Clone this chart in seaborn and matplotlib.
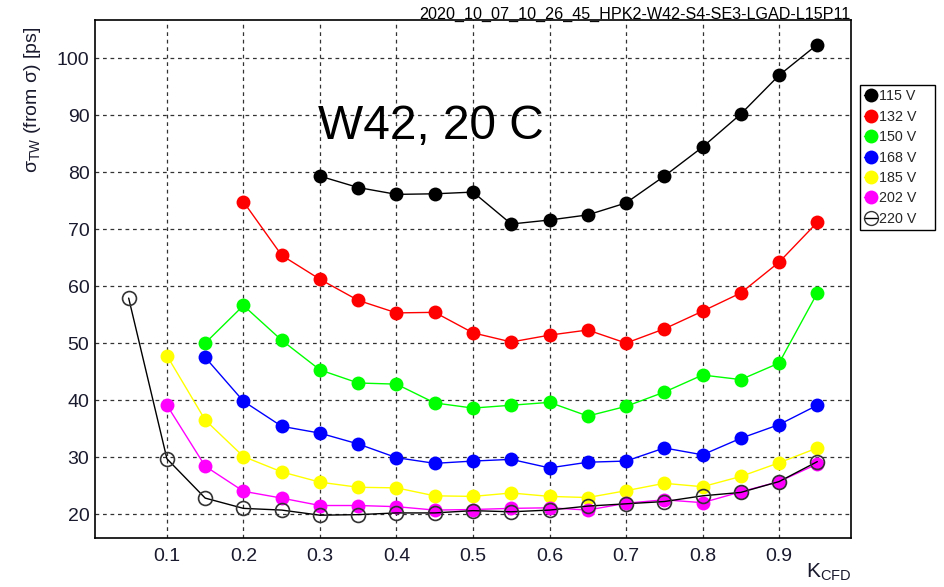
import numpy as np
import pandas as pd
import seaborn as sns
import matplotlib
matplotlib.use("Agg")
import matplotlib.pyplot as plt
from matplotlib.ticker import MultipleLocator
from matplotlib.lines import Line2D

sns.set_style("white")
plt.rcParams["font.family"] = ["Liberation Sans", "DejaVu Sans"]
plt.rcParams["mathtext.fontset"] = "custom"
plt.rcParams["mathtext.rm"] = "Liberation Sans"
plt.rcParams["mathtext.it"] = "Liberation Sans"
plt.rcParams["mathtext.sf"] = "Liberation Sans"

# CFD fraction scan, time-walk-corrected resolution per bias voltage
k_115 = [0.30, 0.35, 0.40, 0.45, 0.50, 0.55, 0.60, 0.65, 0.70, 0.75, 0.80, 0.85, 0.90, 0.95]
s_115 = [79.3, 77.3, 76.1, 76.2, 76.5, 70.9, 71.6, 72.5, 74.6, 79.3, 84.4, 90.2, 97.0, 102.4]

k_132 = [0.20, 0.25, 0.30, 0.35, 0.40, 0.45, 0.50, 0.55, 0.60, 0.65, 0.70, 0.75, 0.80, 0.85, 0.90, 0.95]
s_132 = [74.8, 65.4, 61.2, 57.5, 55.3, 55.4, 51.8, 50.2, 51.4, 52.3, 50.0, 52.5, 55.6, 58.8, 64.2, 71.2]

k_150 = [0.15, 0.20, 0.25, 0.30, 0.35, 0.40, 0.45, 0.50, 0.55, 0.60, 0.65, 0.70, 0.75, 0.80, 0.85, 0.90, 0.95]
s_150 = [50.0, 56.6, 50.5, 45.3, 43.0, 42.8, 39.5, 38.6, 39.1, 39.6, 37.2, 38.9, 41.4, 44.4, 43.6, 46.5, 58.8]

k_168 = [0.15, 0.20, 0.25, 0.30, 0.35, 0.40, 0.45, 0.50, 0.55, 0.60, 0.65, 0.70, 0.75, 0.80, 0.85, 0.90, 0.95]
s_168 = [47.5, 39.8, 35.4, 34.2, 32.3, 29.9, 28.9, 29.3, 29.6, 28.1, 29.1, 29.3, 31.6, 30.4, 33.3, 35.7, 39.1]

k_185 = [0.10, 0.15, 0.20, 0.25, 0.30, 0.35, 0.40, 0.45, 0.50, 0.55, 0.60, 0.65, 0.70, 0.75, 0.80, 0.85, 0.90, 0.95]
s_185 = [47.8, 36.5, 30.1, 27.4, 25.6, 24.7, 24.6, 23.2, 23.1, 23.7, 23.1, 22.9, 24.1, 25.4, 24.8, 26.6, 29.0, 31.6]

k_202 = [0.10, 0.15, 0.20, 0.25, 0.30, 0.35, 0.40, 0.45, 0.50, 0.55, 0.60, 0.65, 0.70, 0.75, 0.80, 0.85, 0.90, 0.95]
s_202 = [39.1, 28.4, 24.0, 22.8, 21.5, 21.5, 21.3, 20.7, 20.8, 21.0, 21.1, 20.7, 21.9, 22.5, 22.0, 23.9, 25.7, 28.8]

k_220 = [0.05, 0.10, 0.15, 0.20, 0.25, 0.30, 0.35, 0.40, 0.45, 0.50, 0.55, 0.60, 0.65, 0.70, 0.75, 0.80, 0.85, 0.90, 0.95]
s_220 = [57.9, 29.7, 22.8, 21.0, 20.7, 19.8, 19.9, 20.2, 20.2, 20.6, 20.4, 20.7, 21.4, 21.8, 22.2, 23.2, 23.8, 25.7, 29.2]

voltages = ["115 V", "132 V", "150 V", "168 V", "185 V", "202 V", "220 V"]
colors = ["#000000", "#ff0000", "#00ff00", "#0000ff", "#ffff00", "#ff00ff", "#000000"]
filled = [True, True, True, True, True, True, False]
series = [(k_115, s_115), (k_132, s_132), (k_150, s_150), (k_168, s_168),
          (k_185, s_185), (k_202, s_202), (k_220, s_220)]

fig = plt.figure(figsize=(9.45, 5.87), dpi=100)
ax = fig.add_axes([95 / 945, 1 - 538 / 587, (851 - 95) / 945, (538 - 20) / 587])

handles = []
for (kx, sy), lab, col, fill in zip(series, voltages, colors, filled):
    df = pd.DataFrame({"k": kx, "sigma": sy})
    mfc = col if fill else "none"
    sns.lineplot(data=df, x="k", y="sigma", ax=ax, color=col, linewidth=1.0,
                 marker="o", markersize=10,
                 markerfacecolor=mfc, markeredgecolor=col if fill else "#333333",
                 markeredgewidth=0 if fill else 1.2, legend=False, zorder=3)
    handles.append(Line2D([], [], color=col, linewidth=1, marker="o", markersize=10,
                          markerfacecolor=mfc, markeredgecolor=col if fill else "#333333",
                          markeredgewidth=0 if fill else 1.0, label=lab))

ax.set_xlim(0.006, 0.994)
ax.set_ylim(15.8, 106.7)
ax.xaxis.set_minor_locator(MultipleLocator(0.02))
ax.yaxis.set_minor_locator(MultipleLocator(2))
ax.set_xticks([0.1, 0.2, 0.3, 0.4, 0.5, 0.6, 0.7, 0.8, 0.9])
ax.set_xticklabels(["0.1", "0.2", "0.3", "0.4", "0.5", "0.6", "0.7", "0.8", "0.9"])
ax.set_yticks([20, 30, 40, 50, 60, 70, 80, 90, 100])
ax.tick_params(axis="x", which="major", direction="in", length=9, width=1, labelsize=14, pad=7, color="black")
ax.tick_params(axis="x", which="minor", direction="in", length=5, width=1, color="black")
ax.tick_params(axis="y", which="major", direction="in", length=14, width=1, labelsize=14, pad=4, color="black")
ax.tick_params(axis="y", which="minor", direction="in", length=7, width=1, color="black")
for lbl in ax.get_xticklabels() + ax.get_yticklabels():
    lbl.set_color("#1a1a2e")

ax.grid(True, which="major", color="#333333", linestyle=(0, (3, 3)), linewidth=0.9)
ax.set_axisbelow(True)
for sp in ax.spines.values():
    sp.set_color("black")
    sp.set_linewidth(1.2)
ax.set_xlabel("")
ax.set_ylabel("")

fig.text(33 / 945, 1 - 100 / 587, r"$\sigma_{\mathrm{TW}}$ (from $\sigma$) [ps]", rotation=90,
         ha="center", va="center", fontsize=14, color="#1a1a2e")
fig.text(851 / 945, 1 - 572 / 587, r"K$_{\mathrm{CFD}}$", ha="right", va="center",
         fontsize=15, color="#1a1a2e")
fig.text(851 / 945, 1 - 14 / 587, "2020_10_07_10_26_45_HPK2-W42-S4-SE3-LGAD-L15P11",
         ha="right", va="center", fontsize=11.65, color="black")
ax.text(0.298, 88.0, "W42, 20 C", fontsize=34.5, ha="left", va="center", color="black")

leg_h = (228 - 85) / 587
leg = fig.legend(handles=handles, loc="upper left",
                 bbox_to_anchor=(860 / 945, 1 - 228 / 587, 75 / 945, leg_h), mode="expand",
                 fontsize=10.3, frameon=True, fancybox=False, edgecolor="black", framealpha=1,
                 handlelength=0.9, handletextpad=0.15, borderpad=0.3, labelspacing=0.45,
                 borderaxespad=0)
leg.get_frame().set_linewidth(1.0)

fig.savefig("out.png", dpi=100)
